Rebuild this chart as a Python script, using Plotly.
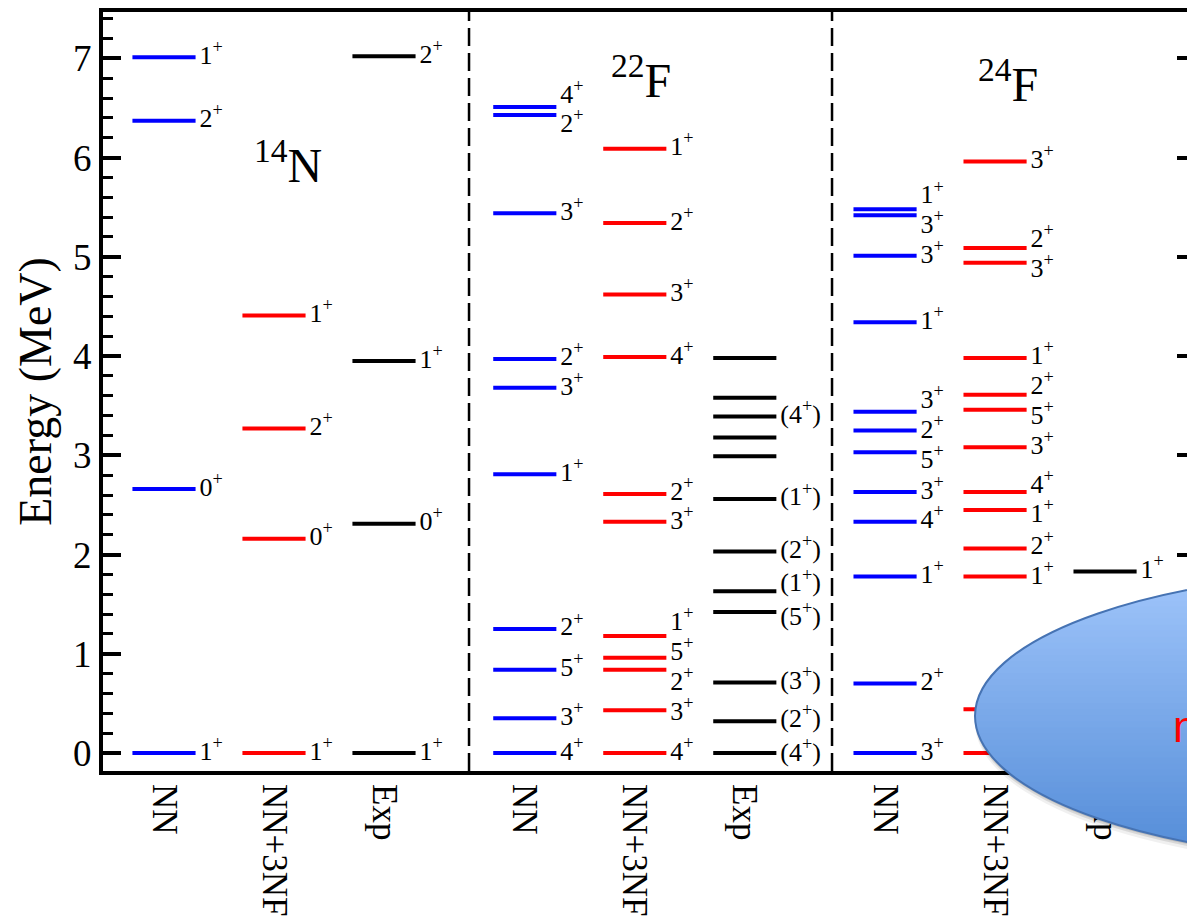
import numpy as np
import plotly.graph_objects as go

# ---------------- data ----------------
method_labels = ["NN", "NN+3NF", "Exp", "NN", "NN+3NF", "Exp", "NN", "NN+3NF", "Exp"]
column_x = [1.0, 2.0, 3.0, 4.28, 5.28, 6.28, 7.555, 8.555, 9.555]
separator_x = [3.773, 7.073]
nuclei = ["<sup>14</sup>N", "<sup>22</sup>F", "<sup>24</sup>F"]
nuclei_x = [2.127, 5.336, 8.673]
nuclei_y = [5.63, 6.49, 6.45]

# 14N
n14_nn_E = [0.0, 2.66, 6.37, 7.01]
n14_nn_J = ["1+", "0+", "2+", "1+"]
n14_3nf_E = [0.0, 2.16, 3.27, 4.41]
n14_3nf_J = ["1+", "0+", "2+", "1+"]
n14_exp_E = [0.0, 2.31, 3.95, 7.02]
n14_exp_J = ["1+", "0+", "1+", "2+"]

# 22F
f22_nn_E = [0.0, 0.35, 0.84, 1.25, 2.81, 3.68, 3.97, 5.44, 6.43, 6.51]
f22_nn_J = ["4+", "3+", "5+", "2+", "1+", "3+", "2+", "3+", "2+", "4+"]
f22_3nf_E = [0.0, 0.43, 0.84, 0.96, 1.18, 2.33, 2.61, 3.99, 4.62, 5.34, 6.09]
f22_3nf_J = ["4+", "3+", "2+", "5+", "1+", "3+", "2+", "4+", "3+", "2+", "1+"]
f22_exp_E = [0.0, 0.32, 0.71, 1.42, 1.63, 2.03, 2.56, 2.99, 3.18, 3.39, 3.58, 3.98]
f22_exp_J = ["(4+)", "(2+)", "(3+)", "(5+)", "(1+)", "(2+)", "(1+)", "", "", "(4+)", "", ""]

# 24F
f24_nn_E = [0.0, 0.70, 1.78, 2.33, 2.63, 3.03, 3.25, 3.44, 4.34, 5.01, 5.42, 5.48]
f24_nn_J = ["3+", "2+", "1+", "4+", "3+", "5+", "2+", "3+", "1+", "3+", "3+", "1+"]
f24_3nf_E = [0.0, 0.44, 1.78, 2.06, 2.45, 2.63, 3.08, 3.46, 3.61, 3.98, 4.94, 5.09, 5.96]
f24_3nf_J = ["", "", "1+", "2+", "1+", "4+", "3+", "5+", "2+", "1+", "3+", "2+", "3+"]
f24_exp_E = [0.0, 1.83]
f24_exp_J = ["3+", "1+"]

series = [
    (n14_nn_E, n14_nn_J, "#0000FF"), (n14_3nf_E, n14_3nf_J, "#FF0000"), (n14_exp_E, n14_exp_J, "#000000"),
    (f22_nn_E, f22_nn_J, "#0000FF"), (f22_3nf_E, f22_3nf_J, "#FF0000"), (f22_exp_E, f22_exp_J, "#000000"),
    (f24_nn_E, f24_nn_J, "#0000FF"), (f24_3nf_E, f24_3nf_J, "#FF0000"), (f24_exp_E, f24_exp_J, "#000000"),
]

HALF = 0.287
LABEL_GAP = 0.035
SERIF = "Liberation Serif"


def spread(vals, gap):
    """Place labels at their level energies, pushing crowded ones apart."""
    order = sorted(range(len(vals)), key=lambda i: vals[i])
    clusters = []
    for i in order:
        clusters.append([i])
        while len(clusters) > 1:
            a, b = clusters[-2], clusters[-1]
            ma = np.mean([vals[k] for k in a])
            mb = np.mean([vals[k] for k in b])
            top_a = ma + (len(a) - 1) / 2 * gap
            bot_b = mb - (len(b) - 1) / 2 * gap
            if bot_b - top_a < gap:
                clusters[-2:] = [a + b]
            else:
                break
    pos = [0.0] * len(vals)
    for c in clusters:
        m = np.mean([vals[k] for k in c])
        for j, k in enumerate(c):
            pos[k] = m + (j - (len(c) - 1) / 2) * gap
    return pos


def fmt(j):
    return j.replace("+", "<sup>+</sup>")


fig = go.Figure()

for ci, (E, J, color) in enumerate(series):
    cx = column_x[ci]
    xs, ys = [], []
    for e in E:
        xs += [cx - HALF, cx + HALF, None]
        ys += [e, e, None]
    fig.add_trace(go.Scatter(x=xs, y=ys, mode="lines", line=dict(color=color, width=4),
                             hoverinfo="skip", showlegend=False))
    lab_idx = [k for k, j in enumerate(J) if j]
    gap = 0.34 if method_labels[ci] == "Exp" else 0.3
    lpos = spread([E[k] for k in lab_idx], gap)
    fig.add_trace(go.Scatter(
        x=[cx + HALF + LABEL_GAP] * len(lab_idx), y=lpos, mode="text",
        text=[fmt(J[k]) for k in lab_idx], textposition="middle right",
        textfont=dict(family=SERIF, size=26, color="black"),
        hoverinfo="skip", showlegend=False, cliponaxis=False))

# dummy trace to carry the right-hand tick axis
fig.add_trace(go.Scatter(x=[None], y=[None], yaxis="y2", showlegend=False, hoverinfo="skip"))

shapes = []
for sx in separator_x:
    shapes.append(dict(type="line", xref="x", yref="paper", x0=sx, x1=sx, y0=0, y1=1,
                       line=dict(color="black", width=2.5, dash="18px,7px"), layer="below"))

# ---- overlay ellipse (decoration), pixel geometry converted to paper ----
PL, PW, PB, PH = 103.0, 1084.0, 771.0, 759.0


def xp(px):
    return (px - PL) / PW


def yp(py):
    return (PB - py) / PH


ecx, ecy, ea, eb = 1395.0, 716.0, 420.0, 145.0

for off, op in [(7, 0.06), (4, 0.10), (2, 0.12)]:
    shapes.append(dict(type="circle", xref="paper", yref="paper",
                       x0=xp(ecx - ea), x1=xp(ecx + ea), y0=yp(ecy + eb + off), y1=yp(ecy - eb + off),
                       fillcolor=f"rgba(0,0,0,{op})", line=dict(width=0), layer="above"))

c_top = np.array([161, 198, 251])
c_bot = np.array([82, 139, 215])
nb = 48
edges = np.linspace(ecy - eb, ecy + eb, nb + 1)
for i in range(nb):
    y0, y1 = edges[i] - 0.7, edges[i + 1] + 0.7
    ys = np.linspace(y0, y1, 6)
    pts = []
    for yy in ys:
        r = max(0.0, 1 - ((yy - ecy) / eb) ** 2)
        pts.append((ecx - ea * np.sqrt(r), yy))
    t = ((edges[i] + edges[i + 1]) / 2 - (ecy - eb)) / (2 * eb)
    col = (1 - t) * c_top + t * c_bot
    path = "M " + " L ".join(f"{xp(px):.5f},{yp(py):.5f}" for px, py in pts)
    path += f" L {xp(1250):.5f},{yp(y1):.5f} L {xp(1250):.5f},{yp(y0):.5f} Z"
    shapes.append(dict(type="path", xref="paper", yref="paper", path=path,
                       fillcolor=f"rgb({col[0]:.0f},{col[1]:.0f},{col[2]:.0f})",
                       line=dict(width=0), layer="above"))

shapes.append(dict(type="circle", xref="paper", yref="paper",
                   x0=xp(ecx - ea), x1=xp(ecx + ea), y0=yp(ecy + eb), y1=yp(ecy - eb),
                   line=dict(color="#4673B3", width=2), layer="above"))

annotations = []
for name, nx, ny in zip(nuclei, nuclei_x, nuclei_y):
    annotations.append(dict(text=name, x=nx, y=ny, xref="x", yref="y", xanchor="center",
                            yanchor="bottom", showarrow=False,
                            font=dict(family=SERIF, size=48, color="black")))
annotations.append(dict(text="n", x=xp(1171), y=yp(726), xref="paper", yref="paper",
                        xanchor="left", yanchor="middle", showarrow=False,
                        font=dict(family="Liberation Sans", size=44, color="#FF0000")))

yr = [-0.181, 7.467]
fig.update_layout(
    width=1187, height=919,
    margin=dict(l=103, r=0, t=12, b=148),
    plot_bgcolor="white", paper_bgcolor="white",
    showlegend=False,
    shapes=shapes, annotations=annotations,
    xaxis=dict(range=[0.4455, 10.3], tickmode="array", tickvals=column_x, ticktext=method_labels,
               tickangle=90, tickfont=dict(family=SERIF, size=35, color="black"),
               ticklabelstandoff=2,
               showline=True, linewidth=4, linecolor="black", mirror=True,
               showgrid=False, zeroline=False, ticks=""),
    yaxis=dict(range=yr, tick0=0, dtick=1, ticks="inside", ticklen=18, tickwidth=4,
               tickcolor="black", showline=True, linewidth=4, linecolor="black",
               showgrid=False, zeroline=False,
               tickfont=dict(family=SERIF, size=37, color="black"),
               title=dict(text="Energy (MeV)", font=dict(family=SERIF, size=46, color="black"),
                          standoff=8),
               minor=dict(ticks="inside", ticklen=10, tickwidth=2.5, tickcolor="black",
                          dtick=0.2, showgrid=False)),
    yaxis2=dict(range=yr, overlaying="y", side="right", tick0=0, dtick=1, ticks="inside",
                ticklen=10, tickwidth=4, tickcolor="black", showticklabels=False,
                showline=False, showgrid=False, zeroline=False),
)

fig.write_html("out.html")
